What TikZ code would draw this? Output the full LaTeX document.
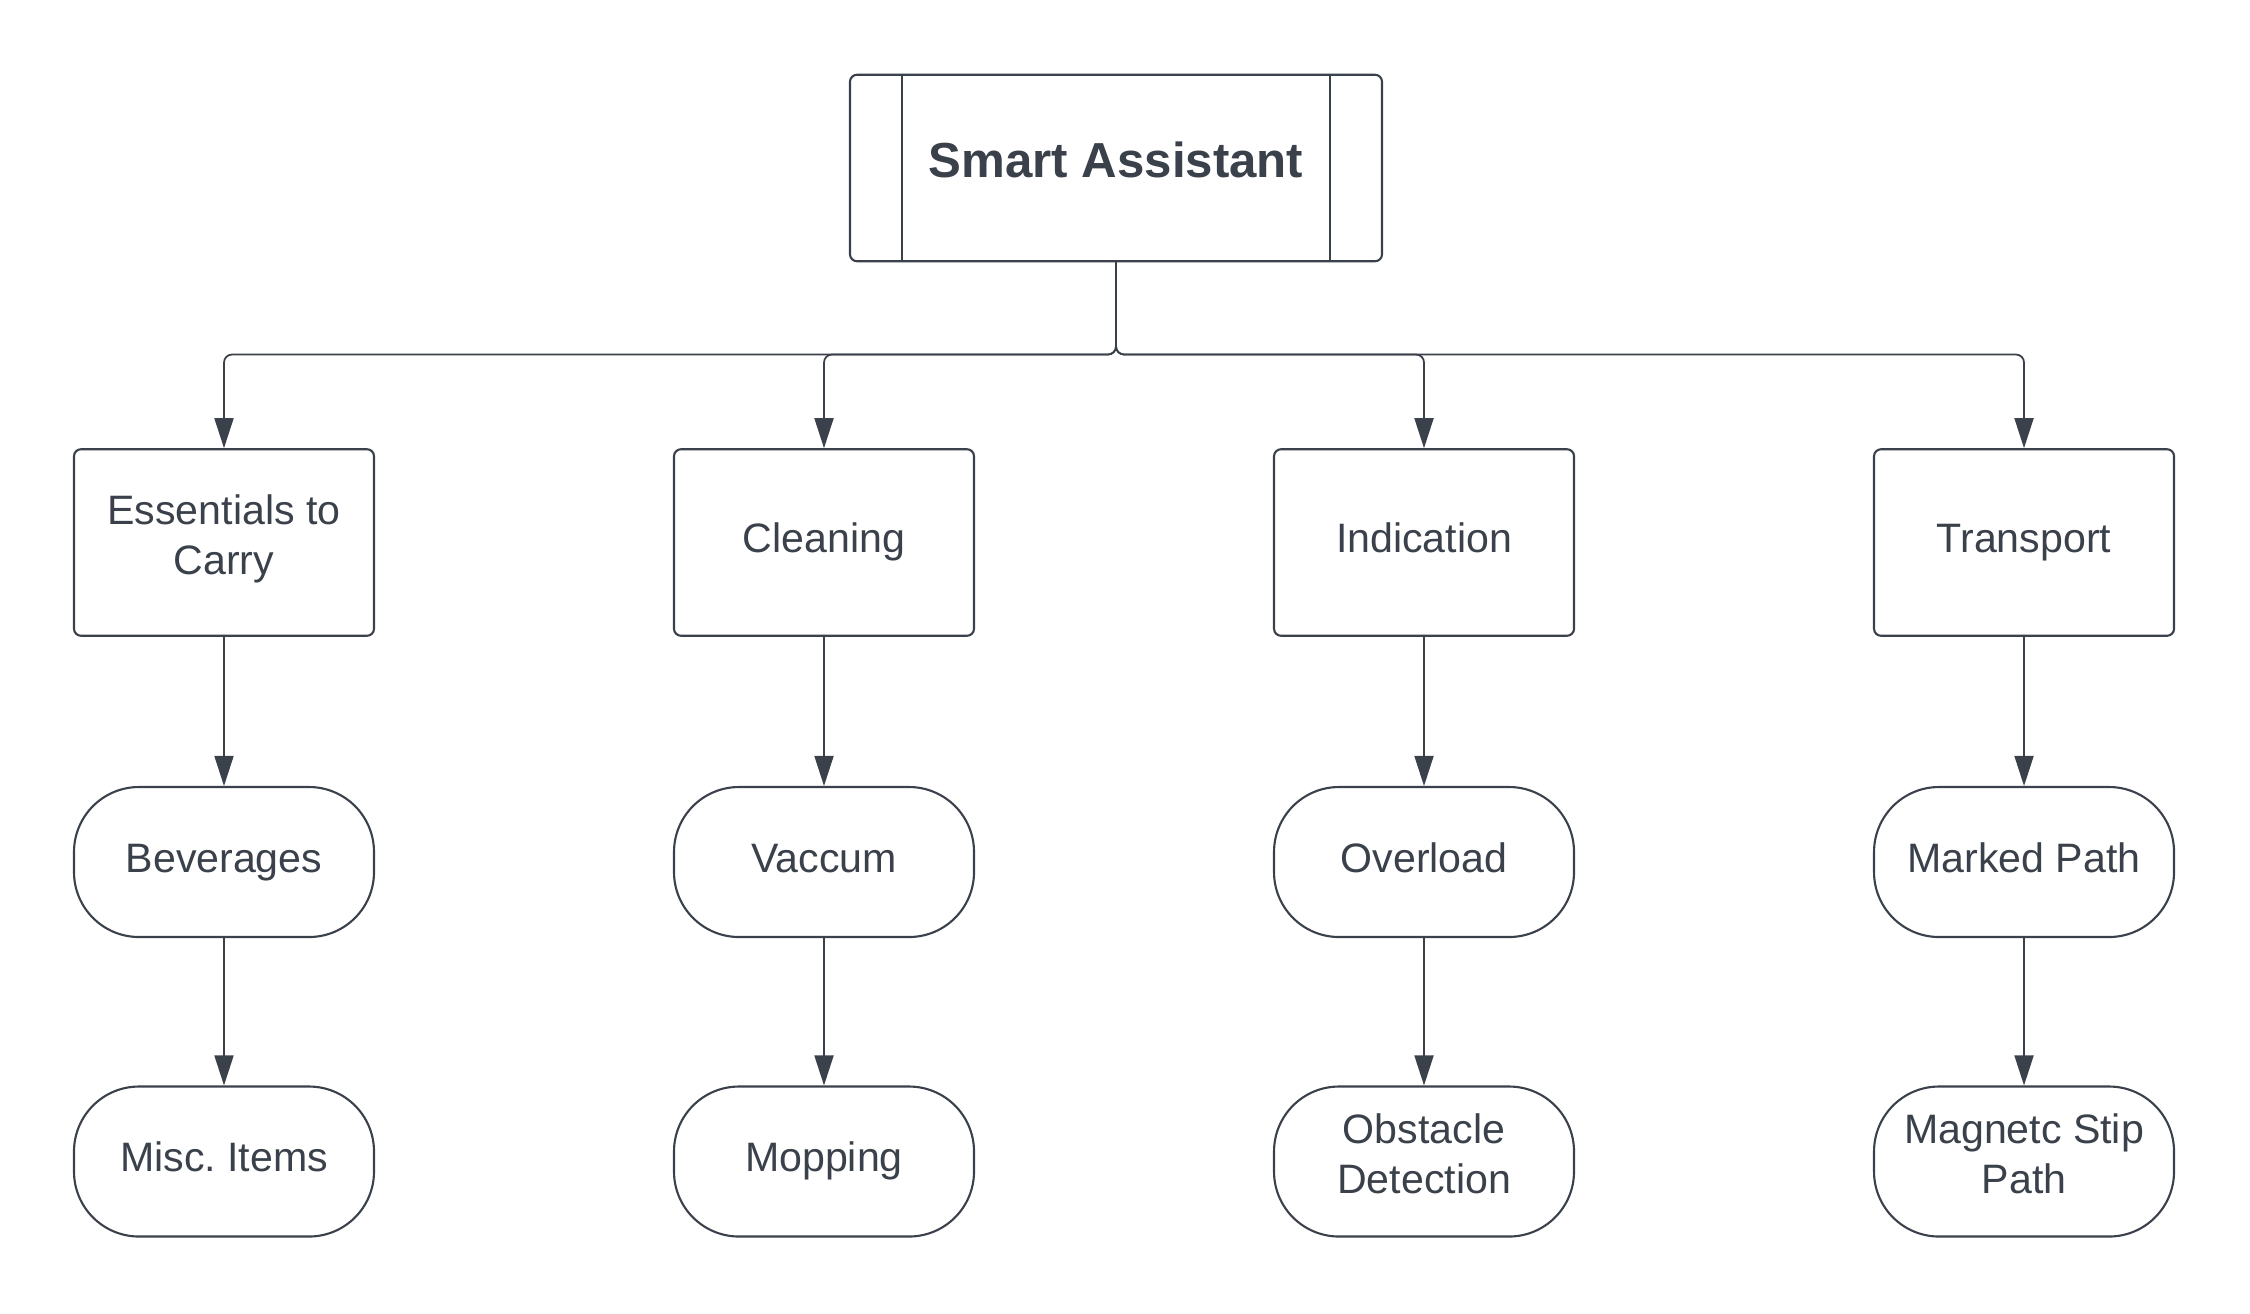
\documentclass[tikz,border=0pt]{standalone}
\usepackage{fontspec}
\setmainfont{Liberation Sans}
\usepackage{tikz}
\usetikzlibrary{arrows.meta}
\definecolor{ink}{HTML}{3A414A}
\frenchspacing

\begin{document}
\begin{tikzpicture}[
  box/.style={draw=ink, line width=0.6pt, rounded corners=0.07cm, minimum width=3cm, minimum height=1.865cm,
    inner sep=0pt, align=center, text=ink, font=\fontsize{11.7}{14.2}\selectfont,
    execute at begin node=\strut, execute at end node=\strut},
  pill/.style={box, rounded corners=0.65cm, minimum height=1.5cm},
  link/.style={draw=ink, line width=0.5pt, -{Triangle[width=1.9mm, length=3mm]}},
]
\useasboundingbox (0,0) rectangle (22.5,-13.13);
% root
\node[draw=ink, line width=0.6pt, rounded corners=0.07cm, minimum width=5.32cm, minimum height=1.865cm, inner sep=0pt,
  text=ink, text depth=0.16cm, font=\fontsize{14}{17}\selectfont\bfseries] (root) at (11.16,-1.68) {Smart Assistant};
\draw[ink, line width=0.6pt] ([xshift=0.53cm]root.north west) -- ([xshift=0.53cm]root.south west);
\draw[ink, line width=0.6pt] ([xshift=-0.53cm]root.north east) -- ([xshift=-0.53cm]root.south east);
% first row
\node[box] (carry) at (2.24,-5.425) {Essentials to\\Carry};
\node[box] (clean) at (8.24,-5.425) {Cleaning};
\node[box] (ind) at (14.24,-5.425) {Indication};
\node[box] (trans) at (20.24,-5.425) {Transport};
% second row
\node[pill] (bev) at (2.24,-8.62) {Beverages};
\node[pill] (vac) at (8.24,-8.62) {Vaccum};
\node[pill] (over) at (14.24,-8.62) {Overload};
\node[pill] (mark) at (20.24,-8.62) {Marked Path};
% third row
\node[pill] (misc) at (2.24,-11.615) {Misc. Items};
\node[pill] (mop) at (8.24,-11.615) {Mopping};
\node[pill] (obs) at (14.24,-11.615) {Obstacle\\Detection};
\node[pill] (strip) at (20.24,-11.615) {Magnetc Stip\\Path};
% links
\coordinate (bus) at (0,-3.545);
\foreach \n in {carry,clean,ind,trans}
  \draw[link, rounded corners=0.08cm] (root.south) |- (bus -| \n) -- (\n.north);
\draw[link] (carry) -- (bev);
\draw[link] (clean) -- (vac);
\draw[link] (ind) -- (over);
\draw[link] (trans) -- (mark);
\draw[link] (bev) -- (misc);
\draw[link] (vac) -- (mop);
\draw[link] (over) -- (obs);
\draw[link] (mark) -- (strip);
\end{tikzpicture}
\end{document}
